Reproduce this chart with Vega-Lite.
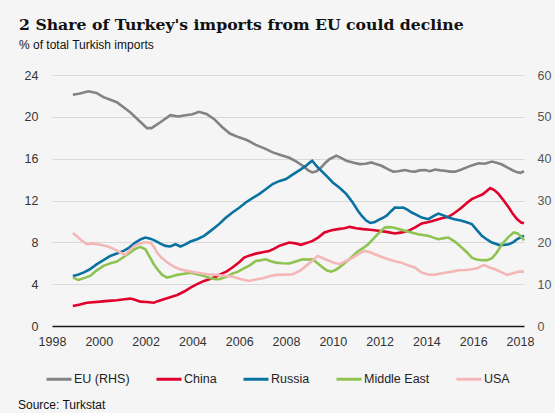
{
  "$schema": "https://vega.github.io/schema/vega-lite/v6.json",
  "background": "#f5f5f5",
  "padding": {"left": 18, "top": 17, "right": 4, "bottom": 4},
  "title": {
    "text": "2 Share of Turkey's imports from EU could decline",
    "subtitle": "% of total Turkish imports",
    "anchor": "start",
    "frame": "group",
    "dx": -33,
    "font": "DejaVu Serif",
    "fontSize": 15.7,
    "fontWeight": "bold",
    "color": "#111111",
    "subtitleFont": "Liberation Sans, Arial, sans-serif",
    "subtitleFontSize": 12,
    "subtitleColor": "#111111",
    "subtitlePadding": 6,
    "offset": 17
  },
  "vconcat": [
    {
      "width": 472,
      "height": 251,
      "title": {
        "text": "Source: Turkstat",
        "orient": "bottom",
        "anchor": "start",
        "frame": "group",
        "dx": -34,
        "font": "Liberation Sans, Arial, sans-serif",
        "fontSize": 12,
        "fontWeight": "normal",
        "color": "#111111",
        "offset": 52
      },
      "data": {"values": [
        {"series":"EU (RHS)","year":1998.89,"share":55.3},{"series":"EU (RHS)","year":1999.2,"share":55.6},{"series":"EU (RHS)","year":1999.56,"share":56.1},{"series":"EU (RHS)","year":1999.9,"share":55.7},{"series":"EU (RHS)","year":2000.2,"share":54.7},{"series":"EU (RHS)","year":2000.77,"share":53.5},{"series":"EU (RHS)","year":2001.34,"share":51.1},{"series":"EU (RHS)","year":2001.7,"share":49.2},{"series":"EU (RHS)","year":2002.06,"share":47.3},{"series":"EU (RHS)","year":2002.25,"share":47.3},{"series":"EU (RHS)","year":2002.63,"share":48.7},{"series":"EU (RHS)","year":2003.06,"share":50.4},{"series":"EU (RHS)","year":2003.4,"share":50.1},{"series":"EU (RHS)","year":2003.63,"share":50.3},{"series":"EU (RHS)","year":2004.0,"share":50.6},{"series":"EU (RHS)","year":2004.28,"share":51.2},{"series":"EU (RHS)","year":2004.6,"share":50.7},{"series":"EU (RHS)","year":2004.92,"share":49.5},{"series":"EU (RHS)","year":2005.28,"share":47.5},{"series":"EU (RHS)","year":2005.6,"share":46.0},{"series":"EU (RHS)","year":2005.99,"share":45.1},{"series":"EU (RHS)","year":2006.35,"share":44.4},{"series":"EU (RHS)","year":2006.71,"share":43.3},{"series":"EU (RHS)","year":2007.1,"share":42.4},{"series":"EU (RHS)","year":2007.43,"share":41.5},{"series":"EU (RHS)","year":2007.8,"share":40.8},{"series":"EU (RHS)","year":2008.14,"share":40.2},{"series":"EU (RHS)","year":2008.45,"share":39.3},{"series":"EU (RHS)","year":2008.71,"share":38.3},{"series":"EU (RHS)","year":2008.95,"share":37.2},{"series":"EU (RHS)","year":2009.12,"share":36.7},{"series":"EU (RHS)","year":2009.3,"share":37.0},{"series":"EU (RHS)","year":2009.5,"share":37.9},{"series":"EU (RHS)","year":2009.7,"share":39.1},{"series":"EU (RHS)","year":2009.86,"share":39.9},{"series":"EU (RHS)","year":2010.15,"share":40.7},{"series":"EU (RHS)","year":2010.35,"share":40.2},{"series":"EU (RHS)","year":2010.58,"share":39.5},{"series":"EU (RHS)","year":2010.85,"share":39.1},{"series":"EU (RHS)","year":2011.15,"share":38.7},{"series":"EU (RHS)","year":2011.4,"share":38.8},{"series":"EU (RHS)","year":2011.65,"share":39.1},{"series":"EU (RHS)","year":2011.85,"share":38.7},{"series":"EU (RHS)","year":2012.08,"share":38.3},{"series":"EU (RHS)","year":2012.35,"share":37.5},{"series":"EU (RHS)","year":2012.58,"share":36.9},{"series":"EU (RHS)","year":2012.8,"share":37.0},{"series":"EU (RHS)","year":2013.08,"share":37.3},{"series":"EU (RHS)","year":2013.3,"share":37.0},{"series":"EU (RHS)","year":2013.51,"share":36.9},{"series":"EU (RHS)","year":2013.7,"share":37.2},{"series":"EU (RHS)","year":2013.94,"share":37.3},{"series":"EU (RHS)","year":2014.15,"share":37.0},{"series":"EU (RHS)","year":2014.37,"share":37.4},{"series":"EU (RHS)","year":2014.6,"share":37.2},{"series":"EU (RHS)","year":2014.8,"share":37.1},{"series":"EU (RHS)","year":2015.0,"share":36.9},{"series":"EU (RHS)","year":2015.23,"share":36.9},{"series":"EU (RHS)","year":2015.5,"share":37.4},{"series":"EU (RHS)","year":2015.8,"share":38.1},{"series":"EU (RHS)","year":2016.0,"share":38.5},{"series":"EU (RHS)","year":2016.23,"share":38.9},{"series":"EU (RHS)","year":2016.5,"share":38.8},{"series":"EU (RHS)","year":2016.8,"share":39.3},{"series":"EU (RHS)","year":2017.0,"share":39.0},{"series":"EU (RHS)","year":2017.23,"share":38.6},{"series":"EU (RHS)","year":2017.45,"share":37.9},{"series":"EU (RHS)","year":2017.66,"share":37.3},{"series":"EU (RHS)","year":2017.85,"share":36.8},{"series":"EU (RHS)","year":2018.02,"share":36.6},{"series":"EU (RHS)","year":2018.17,"share":37.0},
        {"series":"China","year":1998.89,"share":1.92},{"series":"China","year":1999.2,"share":2.05},{"series":"China","year":1999.49,"share":2.23},{"series":"China","year":2000.06,"share":2.33},{"series":"China","year":2000.4,"share":2.4},{"series":"China","year":2000.77,"share":2.46},{"series":"China","year":2001.1,"share":2.55},{"series":"China","year":2001.34,"share":2.62},{"series":"China","year":2001.55,"share":2.5},{"series":"China","year":2001.77,"share":2.33},{"series":"China","year":2002.05,"share":2.3},{"series":"China","year":2002.35,"share":2.23},{"series":"China","year":2002.55,"share":2.4},{"series":"China","year":2002.78,"share":2.55},{"series":"China","year":2003.05,"share":2.75},{"series":"China","year":2003.35,"share":2.97},{"series":"China","year":2003.65,"share":3.3},{"series":"China","year":2003.92,"share":3.67},{"series":"China","year":2004.2,"share":4.0},{"series":"China","year":2004.5,"share":4.31},{"series":"China","year":2004.75,"share":4.5},{"series":"China","year":2005.0,"share":4.7},{"series":"China","year":2005.14,"share":4.89},{"series":"China","year":2005.45,"share":5.2},{"series":"China","year":2005.71,"share":5.59},{"series":"China","year":2006.0,"share":6.1},{"series":"China","year":2006.21,"share":6.54},{"series":"China","year":2006.45,"share":6.75},{"series":"China","year":2006.71,"share":6.92},{"series":"China","year":2007.0,"share":7.05},{"series":"China","year":2007.28,"share":7.18},{"series":"China","year":2007.5,"share":7.4},{"series":"China","year":2007.71,"share":7.66},{"series":"China","year":2007.95,"share":7.85},{"series":"China","year":2008.14,"share":7.98},{"series":"China","year":2008.4,"share":7.9},{"series":"China","year":2008.64,"share":7.76},{"series":"China","year":2008.9,"share":7.95},{"series":"China","year":2009.14,"share":8.14},{"series":"China","year":2009.4,"share":8.5},{"series":"China","year":2009.64,"share":8.94},{"series":"China","year":2009.95,"share":9.15},{"series":"China","year":2010.22,"share":9.26},{"series":"China","year":2010.5,"share":9.35},{"series":"China","year":2010.72,"share":9.48},{"series":"China","year":2011.0,"share":9.35},{"series":"China","year":2011.29,"share":9.26},{"series":"China","year":2011.6,"share":9.2},{"series":"China","year":2011.94,"share":9.1},{"series":"China","year":2012.3,"share":9.0},{"series":"China","year":2012.65,"share":8.84},{"series":"China","year":2012.95,"share":8.95},{"series":"China","year":2013.22,"share":9.1},{"series":"China","year":2013.5,"share":9.4},{"series":"China","year":2013.8,"share":9.8},{"series":"China","year":2014.1,"share":9.95},{"series":"China","year":2014.37,"share":10.12},{"series":"China","year":2014.65,"share":10.3},{"series":"China","year":2014.94,"share":10.44},{"series":"China","year":2015.2,"share":10.8},{"series":"China","year":2015.51,"share":11.33},{"series":"China","year":2015.75,"share":11.8},{"series":"China","year":2015.94,"share":12.13},{"series":"China","year":2016.15,"share":12.35},{"series":"China","year":2016.37,"share":12.55},{"series":"China","year":2016.55,"share":12.85},{"series":"China","year":2016.73,"share":13.19},{"series":"China","year":2016.9,"share":13.0},{"series":"China","year":2017.09,"share":12.61},{"series":"China","year":2017.3,"share":12.0},{"series":"China","year":2017.52,"share":11.33},{"series":"China","year":2017.7,"share":10.7},{"series":"China","year":2017.88,"share":10.21},{"series":"China","year":2018.05,"share":9.9},{"series":"China","year":2018.17,"share":9.83},
        {"series":"Russia","year":1998.89,"share":4.79},{"series":"Russia","year":1999.1,"share":4.9},{"series":"Russia","year":1999.34,"share":5.1},{"series":"Russia","year":1999.6,"share":5.4},{"series":"Russia","year":1999.92,"share":5.91},{"series":"Russia","year":2000.2,"share":6.3},{"series":"Russia","year":2000.49,"share":6.7},{"series":"Russia","year":2000.8,"share":6.95},{"series":"Russia","year":2001.06,"share":7.18},{"series":"Russia","year":2001.3,"share":7.5},{"series":"Russia","year":2001.56,"share":7.98},{"series":"Russia","year":2001.8,"share":8.3},{"series":"Russia","year":2001.99,"share":8.46},{"series":"Russia","year":2002.2,"share":8.35},{"series":"Russia","year":2002.42,"share":8.14},{"series":"Russia","year":2002.65,"share":7.85},{"series":"Russia","year":2002.85,"share":7.66},{"series":"Russia","year":2003.05,"share":7.6},{"series":"Russia","year":2003.28,"share":7.82},{"series":"Russia","year":2003.49,"share":7.6},{"series":"Russia","year":2003.7,"share":7.8},{"series":"Russia","year":2003.92,"share":8.08},{"series":"Russia","year":2004.2,"share":8.3},{"series":"Russia","year":2004.5,"share":8.62},{"series":"Russia","year":2004.75,"share":9.05},{"series":"Russia","year":2005.0,"share":9.48},{"series":"Russia","year":2005.14,"share":9.74},{"series":"Russia","year":2005.4,"share":10.3},{"series":"Russia","year":2005.71,"share":10.85},{"series":"Russia","year":2006.0,"share":11.3},{"series":"Russia","year":2006.28,"share":11.81},{"series":"Russia","year":2006.55,"share":12.2},{"series":"Russia","year":2006.85,"share":12.61},{"series":"Russia","year":2007.15,"share":13.1},{"series":"Russia","year":2007.43,"share":13.57},{"series":"Russia","year":2007.7,"share":13.85},{"series":"Russia","year":2008.0,"share":14.05},{"series":"Russia","year":2008.2,"share":14.35},{"series":"Russia","year":2008.43,"share":14.69},{"series":"Russia","year":2008.65,"share":15.0},{"series":"Russia","year":2008.86,"share":15.33},{"series":"Russia","year":2009.0,"share":15.6},{"series":"Russia","year":2009.12,"share":15.8},{"series":"Russia","year":2009.3,"share":15.3},{"series":"Russia","year":2009.5,"share":14.85},{"series":"Russia","year":2009.75,"share":14.3},{"series":"Russia","year":2010.0,"share":13.73},{"series":"Russia","year":2010.3,"share":13.2},{"series":"Russia","year":2010.58,"share":12.61},{"series":"Russia","year":2010.85,"share":11.8},{"series":"Russia","year":2011.08,"share":11.0},{"series":"Russia","year":2011.25,"share":10.5},{"series":"Russia","year":2011.44,"share":10.06},{"series":"Russia","year":2011.6,"share":9.85},{"series":"Russia","year":2011.8,"share":9.95},{"series":"Russia","year":2011.94,"share":10.12},{"series":"Russia","year":2012.1,"share":10.3},{"series":"Russia","year":2012.3,"share":10.54},{"series":"Russia","year":2012.5,"share":11.0},{"series":"Russia","year":2012.65,"share":11.33},{"series":"Russia","year":2012.85,"share":11.3},{"series":"Russia","year":2013.01,"share":11.33},{"series":"Russia","year":2013.2,"share":11.1},{"series":"Russia","year":2013.37,"share":10.85},{"series":"Russia","year":2013.6,"share":10.6},{"series":"Russia","year":2013.8,"share":10.37},{"series":"Russia","year":2014.08,"share":10.21},{"series":"Russia","year":2014.3,"share":10.5},{"series":"Russia","year":2014.51,"share":10.75},{"series":"Russia","year":2014.7,"share":10.6},{"series":"Russia","year":2014.94,"share":10.37},{"series":"Russia","year":2015.2,"share":10.2},{"series":"Russia","year":2015.51,"share":10.06},{"series":"Russia","year":2015.75,"share":9.9},{"series":"Russia","year":2015.94,"share":9.74},{"series":"Russia","year":2016.15,"share":9.2},{"series":"Russia","year":2016.37,"share":8.62},{"series":"Russia","year":2016.6,"share":8.25},{"series":"Russia","year":2016.8,"share":7.98},{"series":"Russia","year":2017.09,"share":7.76},{"series":"Russia","year":2017.3,"share":7.75},{"series":"Russia","year":2017.52,"share":7.82},{"series":"Russia","year":2017.7,"share":8.0},{"series":"Russia","year":2017.88,"share":8.3},{"series":"Russia","year":2018.05,"share":8.5},{"series":"Russia","year":2018.17,"share":8.65},
        {"series":"Middle East","year":1998.89,"share":4.63},{"series":"Middle East","year":1999.13,"share":4.4},{"series":"Middle East","year":1999.4,"share":4.6},{"series":"Middle East","year":1999.63,"share":4.79},{"series":"Middle East","year":1999.9,"share":5.3},{"series":"Middle East","year":2000.2,"share":5.75},{"series":"Middle East","year":2000.5,"share":6.0},{"series":"Middle East","year":2000.77,"share":6.16},{"series":"Middle East","year":2001.0,"share":6.5},{"series":"Middle East","year":2001.27,"share":6.92},{"series":"Middle East","year":2001.5,"share":7.3},{"series":"Middle East","year":2001.77,"share":7.57},{"series":"Middle East","year":2001.99,"share":7.34},{"series":"Middle East","year":2002.15,"share":6.7},{"series":"Middle East","year":2002.35,"share":5.91},{"series":"Middle East","year":2002.55,"share":5.3},{"series":"Middle East","year":2002.71,"share":4.89},{"series":"Middle East","year":2002.92,"share":4.63},{"series":"Middle East","year":2003.15,"share":4.75},{"series":"Middle East","year":2003.35,"share":4.89},{"series":"Middle East","year":2003.65,"share":5.0},{"series":"Middle East","year":2003.92,"share":5.1},{"series":"Middle East","year":2004.2,"share":4.95},{"series":"Middle East","year":2004.5,"share":4.79},{"series":"Middle East","year":2004.75,"share":4.6},{"series":"Middle East","year":2005.0,"share":4.47},{"series":"Middle East","year":2005.14,"share":4.47},{"series":"Middle East","year":2005.45,"share":4.7},{"series":"Middle East","year":2005.71,"share":5.01},{"series":"Middle East","year":2005.95,"share":5.2},{"series":"Middle East","year":2006.14,"share":5.43},{"series":"Middle East","year":2006.45,"share":5.8},{"series":"Middle East","year":2006.71,"share":6.22},{"series":"Middle East","year":2006.95,"share":6.3},{"series":"Middle East","year":2007.14,"share":6.38},{"series":"Middle East","year":2007.35,"share":6.2},{"series":"Middle East","year":2007.57,"share":6.06},{"series":"Middle East","year":2007.85,"share":6.0},{"series":"Middle East","year":2008.14,"share":5.97},{"series":"Middle East","year":2008.45,"share":6.2},{"series":"Middle East","year":2008.71,"share":6.38},{"series":"Middle East","year":2008.95,"share":6.35},{"series":"Middle East","year":2009.14,"share":6.38},{"series":"Middle East","year":2009.35,"share":6.0},{"series":"Middle East","year":2009.57,"share":5.59},{"series":"Middle East","year":2009.75,"share":5.3},{"series":"Middle East","year":2009.93,"share":5.2},{"series":"Middle East","year":2010.15,"share":5.4},{"series":"Middle East","year":2010.36,"share":5.75},{"series":"Middle East","year":2010.6,"share":6.2},{"series":"Middle East","year":2010.86,"share":6.7},{"series":"Middle East","year":2011.05,"share":7.1},{"series":"Middle East","year":2011.29,"share":7.44},{"series":"Middle East","year":2011.5,"share":7.8},{"series":"Middle East","year":2011.72,"share":8.3},{"series":"Middle East","year":2011.95,"share":8.85},{"series":"Middle East","year":2012.22,"share":9.42},{"series":"Middle East","year":2012.4,"share":9.45},{"series":"Middle East","year":2012.58,"share":9.42},{"series":"Middle East","year":2012.85,"share":9.25},{"series":"Middle East","year":2013.08,"share":9.1},{"series":"Middle East","year":2013.35,"share":8.95},{"series":"Middle East","year":2013.65,"share":8.78},{"series":"Middle East","year":2013.85,"share":8.7},{"series":"Middle East","year":2014.08,"share":8.62},{"series":"Middle East","year":2014.3,"share":8.45},{"series":"Middle East","year":2014.51,"share":8.3},{"series":"Middle East","year":2014.75,"share":8.4},{"series":"Middle East","year":2014.94,"share":8.46},{"series":"Middle East","year":2015.2,"share":8.1},{"series":"Middle East","year":2015.51,"share":7.5},{"series":"Middle East","year":2015.75,"share":7.0},{"series":"Middle East","year":2015.94,"share":6.54},{"series":"Middle East","year":2016.15,"share":6.35},{"series":"Middle East","year":2016.37,"share":6.29},{"series":"Middle East","year":2016.6,"share":6.3},{"series":"Middle East","year":2016.8,"share":6.48},{"series":"Middle East","year":2017.0,"share":7.0},{"series":"Middle East","year":2017.23,"share":7.82},{"series":"Middle East","year":2017.5,"share":8.5},{"series":"Middle East","year":2017.73,"share":8.94},{"series":"Middle East","year":2017.9,"share":8.85},{"series":"Middle East","year":2018.02,"share":8.62},{"series":"Middle East","year":2018.17,"share":8.2},
        {"series":"USA","year":1998.89,"share":8.88},{"series":"USA","year":1999.05,"share":8.6},{"series":"USA","year":1999.2,"share":8.3},{"series":"USA","year":1999.49,"share":7.82},{"series":"USA","year":1999.75,"share":7.9},{"series":"USA","year":2000.06,"share":7.76},{"series":"USA","year":2000.3,"share":7.65},{"series":"USA","year":2000.49,"share":7.5},{"series":"USA","year":2000.7,"share":7.3},{"series":"USA","year":2000.92,"share":7.02},{"series":"USA","year":2001.13,"share":6.8},{"series":"USA","year":2001.3,"share":7.2},{"series":"USA","year":2001.49,"share":7.6},{"series":"USA","year":2001.7,"share":7.85},{"series":"USA","year":2001.92,"share":7.98},{"series":"USA","year":2002.2,"share":7.98},{"series":"USA","year":2002.35,"share":7.6},{"series":"USA","year":2002.49,"share":7.02},{"series":"USA","year":2002.65,"share":6.6},{"series":"USA","year":2002.85,"share":6.22},{"series":"USA","year":2003.05,"share":5.9},{"series":"USA","year":2003.28,"share":5.59},{"series":"USA","year":2003.5,"share":5.4},{"series":"USA","year":2003.78,"share":5.27},{"series":"USA","year":2004.05,"share":5.15},{"series":"USA","year":2004.35,"share":5.04},{"series":"USA","year":2004.65,"share":4.95},{"series":"USA","year":2005.0,"share":4.89},{"series":"USA","year":2005.35,"share":4.8},{"series":"USA","year":2005.71,"share":4.72},{"series":"USA","year":2006.05,"share":4.5},{"series":"USA","year":2006.42,"share":4.31},{"series":"USA","year":2006.7,"share":4.45},{"series":"USA","year":2007.0,"share":4.57},{"series":"USA","year":2007.3,"share":4.75},{"series":"USA","year":2007.57,"share":4.89},{"series":"USA","year":2007.9,"share":4.9},{"series":"USA","year":2008.29,"share":4.95},{"series":"USA","year":2008.6,"share":5.3},{"series":"USA","year":2008.86,"share":5.75},{"series":"USA","year":2009.1,"share":6.2},{"series":"USA","year":2009.36,"share":6.7},{"series":"USA","year":2009.6,"share":6.45},{"series":"USA","year":2009.86,"share":6.22},{"series":"USA","year":2010.05,"share":6.05},{"series":"USA","year":2010.29,"share":5.91},{"series":"USA","year":2010.55,"share":6.2},{"series":"USA","year":2010.86,"share":6.54},{"series":"USA","year":2011.1,"share":6.9},{"series":"USA","year":2011.36,"share":7.18},{"series":"USA","year":2011.6,"share":7.05},{"series":"USA","year":2011.8,"share":6.86},{"series":"USA","year":2012.1,"share":6.6},{"series":"USA","year":2012.37,"share":6.38},{"series":"USA","year":2012.65,"share":6.2},{"series":"USA","year":2012.94,"share":6.06},{"series":"USA","year":2013.2,"share":5.8},{"series":"USA","year":2013.51,"share":5.59},{"series":"USA","year":2013.8,"share":5.1},{"series":"USA","year":2014.05,"share":4.95},{"series":"USA","year":2014.3,"share":4.89},{"series":"USA","year":2014.55,"share":5.0},{"series":"USA","year":2014.8,"share":5.1},{"series":"USA","year":2015.1,"share":5.2},{"series":"USA","year":2015.37,"share":5.33},{"series":"USA","year":2015.65,"share":5.35},{"series":"USA","year":2015.94,"share":5.43},{"series":"USA","year":2016.2,"share":5.55},{"series":"USA","year":2016.44,"share":5.84},{"series":"USA","year":2016.7,"share":5.6},{"series":"USA","year":2016.94,"share":5.43},{"series":"USA","year":2017.2,"share":5.15},{"series":"USA","year":2017.44,"share":4.89},{"series":"USA","year":2017.7,"share":5.05},{"series":"USA","year":2017.95,"share":5.2},{"series":"USA","year":2018.17,"share":5.2}
      ]},
      "encoding": {
        "x": {
          "field": "year", "type": "quantitative",
          "scale": {"domain": [1998, 2018.17], "nice": false, "zero": false},
          "axis": {
            "values": [1998, 2000, 2002, 2004, 2006, 2008, 2010, 2012, 2014, 2016, 2018],
            "format": "d", "title": null, "grid": false, "ticks": false,
            "domainColor": "#1a1a1a", "domainWidth": 1.5,
            "labelPadding": 9, "labelFontSize": 12.5, "labelColor": "#333333",
            "labelFont": "Liberation Sans, Arial, sans-serif",
            "labelFlush": false
          }
        },
        "color": {
          "field": "series", "type": "nominal",
          "scale": {
            "domain": ["EU (RHS)", "China", "Russia", "Middle East", "USA"],
            "range": ["#838383", "#e0002b", "#0a72a0", "#8ec352", "#f4b7b7"]
          },
          "legend": {
            "title": null, "orient": "none", "direction": "horizontal",
            "legendX": -7, "legendY": 290,
            "symbolType": "stroke", "symbolSize": 625, "symbolStrokeWidth": 3,
            "labelFontSize": 12.5, "labelColor": "#222222", "labelOffset": 1,
            "labelFont": "Liberation Sans, Arial, sans-serif",
            "columnPadding": 20
          }
        }
      },
      "layer": [
        {
          "transform": [{"filter": "datum.series === 'EU (RHS)'"}],
          "mark": {"type": "line", "strokeWidth": 2.6},
          "encoding": {
            "y": {
              "field": "share", "type": "quantitative",
              "scale": {"domain": [0, 60], "nice": false},
              "axis": {
                "orient": "right", "values": [0, 10, 20, 30, 40, 50, 60],
                "title": null, "grid": false, "domain": false, "ticks": false,
                "labelPadding": 13, "labelFontSize": 12.5, "labelColor": "#555555",
                "labelFont": "Liberation Sans, Arial, sans-serif"
              }
            }
          }
        },
        {
          "transform": [{"filter": "datum.series !== 'EU (RHS)'"}],
          "mark": {"type": "line", "strokeWidth": 2.6},
          "encoding": {
            "y": {
              "field": "share", "type": "quantitative",
              "scale": {"domain": [0, 24], "nice": false},
              "axis": {
                "orient": "left", "values": [0, 4, 8, 12, 16, 20, 24],
                "title": null, "grid": true, "gridColor": "#d9d9d9", "gridWidth": 1,
                "domain": false, "ticks": false,
                "labelPadding": 14, "labelFontSize": 12.5, "labelColor": "#333333",
                "labelFont": "Liberation Sans, Arial, sans-serif"
              }
            }
          }
        }
      ],
      "resolve": {"scale": {"y": "independent"}}
    }
  ],
  "config": {
    "view": {"stroke": null},
    "concat": {"spacing": 0}
  }
}
